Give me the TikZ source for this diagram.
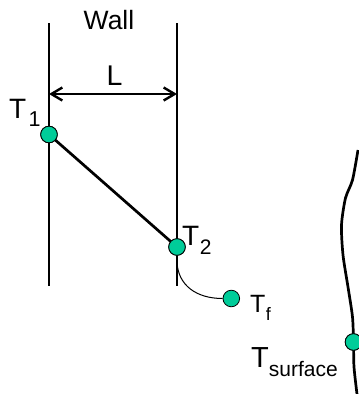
\documentclass[tikz,border=0pt]{standalone}
\usepackage{fontspec}
\setmainfont{Liberation Sans}
\usetikzlibrary{arrows.meta}
\definecolor{dotgreen}{RGB}{0,204,153}
\newcommand{\fs}[1]{\fontsize{#1}{#1}\selectfont}
\begin{document}
\begin{tikzpicture}[x=1pt,y=-1pt,
  wallline/.style={line width=2.7pt},
  dotnode/.style={circle,draw=black,line width=0.8pt,fill=dotgreen,minimum size=16.6pt,inner sep=0pt},
  lbl/.style={inner sep=0pt,outer sep=0pt},
  dimarrow/.style={line width=2.4pt,{Straight Barb[length=11pt,width=13pt]}-{Straight Barb[length=11pt,width=13pt]}},
  thin/.style={line width=1pt}]
\useasboundingbox (0,0) rectangle (359,394);
% walls
\coordinate (lwtop) at (49,23);
\coordinate (lwbot) at (49,286);
\coordinate (rwtop) at (177,23);
\coordinate (rwbot) at (177,286);
\draw[wallline] (lwtop) -- (lwbot);
\draw[wallline] (rwtop) -- (rwbot);
% dimension arrow
\coordinate (la) at (49,94);
\coordinate (ra) at (177,94);
\draw[dimarrow] (la) -- (ra);
% labels
\node[lbl,anchor=base] (wall) at (109,29) {\fs{26.5}Wall};
\node[lbl,anchor=base] (L) at (114.5,85) {\fs{28.5}L};
% dots
\node[dotnode] (t1) at (49,134.5) {};
\node[dotnode] (t2) at (177,247) {};
\node[dotnode] (tf) at (231.3,298.5) {};
\node[dotnode] (ts) at (353.5,342) {};
% profile line
\draw[wallline] (t1.center) -- (t2.center);
\node[dotnode] at (t1) {};
\node[dotnode] at (t2) {};
% convection curve
\coordinate (cstart) at (177,262);
\draw[thin] (cstart) .. controls (178,285) and (196,298.5) .. (tf.west);
% surface
\draw[wallline,line join=round] plot[smooth,tension=0.45] coordinates {(358,150) (352.5,180) (345.5,198) (341.5,225) (343,255) (348,287) (352.5,317) (353.5,342) (354,367) (357,394)};
\node[dotnode] at (ts) {};
% T labels
\node[lbl,anchor=base west] (lt1) at (9.2,118) {\fs{28}T\kern2.3pt\raisebox{-8pt}{\fs{21.5}1}};
\node[lbl,anchor=base west] (lt2) at (182.2,245) {\fs{28}T\kern0.6pt\raisebox{-9pt}{\fs{21}2}};
\node[lbl,anchor=base west] (ltf) at (250.2,312) {\fs{25}T\kern0.3pt\raisebox{-8pt}{\fs{18}f}};
\node[lbl,anchor=base west] (lts) at (251.2,367) {\fs{29}T\kern0pt\raisebox{-9.5pt}{\fs{21}surface}};
\end{tikzpicture}
\end{document}
